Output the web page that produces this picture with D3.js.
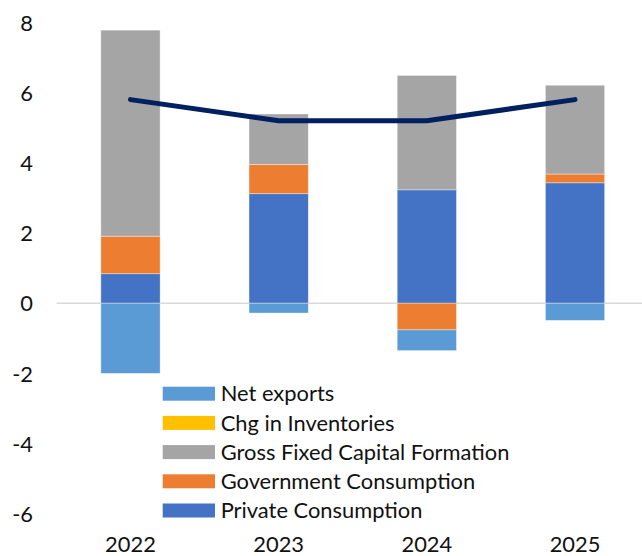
<!DOCTYPE html>
<html><head><meta charset="utf-8">
<script src="https://cdn.jsdelivr.net/npm/d3@7"></script>
<style>body{margin:0;background:#fff}svg{display:block}text{font-family:Lato,"Open Sans",sans-serif;fill:#111}</style>
</head><body>
<svg id="c" width="642" height="556"></svg>
<script>
const years = ["2022","2023","2024","2025"];
const privateConsumption = [0.84, 3.12, 3.23, 3.43];
const governmentConsumption = [1.07, 0.83, -0.76, 0.25];
const grossFixedCapital = [5.87, 1.44, 3.26, 2.53];
const chgInventories = [0, 0, 0, 0];
const netExports = [-2.0, -0.28, -0.59, -0.49];
const gdpGrowth = [5.8, 5.2, 5.2, 5.8];
const yTicks = [-6, -4, -2, 0, 2, 4, 6, 8];

const seriesNames = ["Private Consumption","Government Consumption","Gross Fixed Capital Formation","Chg in Inventories","Net exports"];
const seriesVals = [privateConsumption, governmentConsumption, grossFixedCapital, chgInventories, netExports];
const colors = ["#4472C4","#ED7D31","#A5A5A5","#FFC000","#5B9BD5"];

const svg = d3.select("#c");
const x = d3.scaleBand().domain(years).range([56.4, 649.1]).paddingInner(0.6).paddingOuter(0.3);
const y = d3.scaleLinear().domain([-6, 8]).range([513.8, 22.4]);

const rows = years.map((yr, i) => {
  const r = {year: yr};
  seriesNames.forEach((n, k) => r[n] = seriesVals[k][i]);
  return r;
});
const stack = d3.stack().keys(seriesNames).order(d3.stackOrderNone).offset(d3.stackOffsetDiverging)(rows);

// measure font size
const probe = svg.append("text").style("font-size","20px").text("Gross Fixed Capital Formation");
const fs = 20 * 289 / probe.node().getComputedTextLength();
probe.remove();

// zero line
svg.append("line").attr("x1", 56.5).attr("x2", 642).attr("y1", y(0)).attr("y2", y(0))
  .attr("stroke", "#d9d9d9").attr("stroke-width", 1.5);

stack.forEach((s, k) => {
  svg.append("g").selectAll("rect").data(s).join("rect")
    .attr("x", d => x(d.data.year))
    .attr("width", x.bandwidth())
    .attr("y", d => y(Math.max(d[0], d[1])))
    .attr("height", d => Math.abs(y(d[0]) - y(d[1])))
    .attr("fill", colors[k])
    .attr("stroke", "rgba(255,255,255,0.5)").attr("stroke-width", 0.75);
});

// line
const line = d3.line().x((d, i) => x(years[i]) + x.bandwidth() / 2).y(d => y(d));
svg.append("path").datum(gdpGrowth).attr("d", line).attr("fill", "none")
  .attr("stroke", "#002060").attr("stroke-width", 5).attr("stroke-linecap", "round").attr("stroke-linejoin", "round");

// y axis labels
const yAxis = d3.axisLeft(y).tickValues(yTicks).tickSize(0).tickPadding(0).tickFormat(d => d < 0 ? "-" + Math.abs(d) : d);
const gy = svg.append("g").attr("transform", "translate(33,0)").call(yAxis);
gy.select(".domain").remove();
gy.selectAll("text").style("font-size", fs + "px").style("font-family", "Lato,'Open Sans',sans-serif").attr("fill", "#111").attr("dy", "0.35em");

// x axis labels
const xAxis = d3.axisBottom(x).tickSize(0).tickPadding(0);
const gx = svg.append("g").attr("transform", "translate(0,552)").call(xAxis);
gx.select(".domain").remove();
gx.selectAll("text").style("font-size", fs + "px").style("font-family", "Lato,'Open Sans',sans-serif").attr("fill", "#111").attr("dy", "0");

// legend
const legendOrder = [4, 3, 2, 1, 0];
const lg = svg.append("g");
legendOrder.forEach((k, j) => {
  const cy = 393.7 + j * 29.2;
  lg.append("rect").attr("x", 162.7).attr("y", cy - 7).attr("width", 52.3).attr("height", 14).attr("fill", colors[k]);
  lg.append("text").attr("x", 220.7).attr("y", cy).attr("dy", "0.35em").style("font-size", fs + "px").text(seriesNames[k]);
});
</script>
</body></html>
